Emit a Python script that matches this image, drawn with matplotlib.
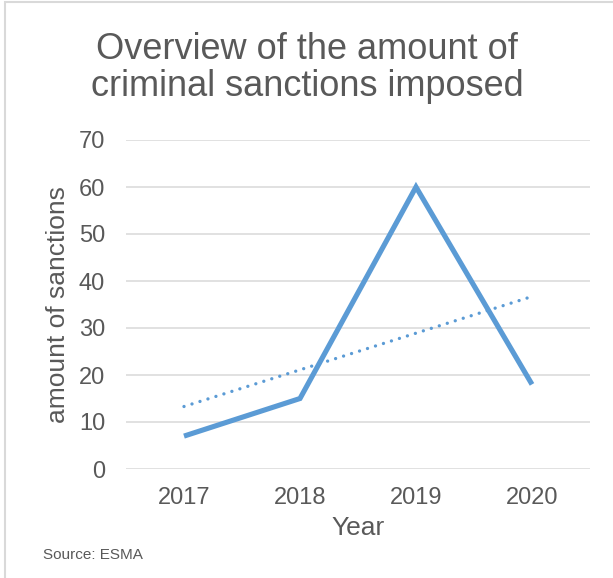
import numpy as np
from matplotlib import pyplot as plt
from matplotlib.patches import Rectangle

plt.rcParams['font.family'] = ['Liberation Sans', 'DejaVu Sans']

years = ['2017', '2018', '2019', '2020']
sanctions = [7, 15, 60, 18]
y_ticks = [0, 10, 20, 30, 40, 50, 60, 70]

text_col = '#595959'
line_col = '#5B9BD5'

fig = plt.figure(figsize=(6.13, 5.78), dpi=100)
ax = fig.add_axes([126 / 613, 1 - 469 / 578, 464 / 613, 329 / 578])

x = np.arange(len(years))
ax.plot(x, sanctions, color=line_col, lw=3.7, solid_capstyle='butt',
        solid_joinstyle='miter', zorder=3)

# linear trendline as Excel draws it
slope, icpt = np.polyfit(x, sanctions, 1)
ax.plot(x, slope * x + icpt, color=line_col, lw=2.4, ls=(0, (0.01, 2.5)),
        dash_capstyle='round', zorder=3)

ax.set_xlim(-0.5, len(years) - 0.5)
ax.set_ylim(0, 70)
ax.set_yticks(y_ticks)
ax.set_xticks(x)
ax.set_xticklabels(years)
ax.grid(axis='y', color='#D9D9D9', lw=1.1)
ax.set_axisbelow(True)
for s in ax.spines.values():
    s.set_visible(False)
ax.tick_params(length=0, labelsize=17, colors=text_col)
ax.tick_params(axis='y', pad=15)
ax.tick_params(axis='x', pad=13)

ax.set_xlabel('Year', fontsize=19, color=text_col, labelpad=5)
ax.set_ylabel('amount of sanctions', fontsize=19, color=text_col, labelpad=6)

fig.text(307 / 613, 1 - 68 / 578, 'Overview of the amount of\ncriminal sanctions imposed',
         ha='center', va='center', fontsize=26, color=text_col, linespacing=1.1)
fig.text(43 / 613, 1 - 555 / 578, 'Source: ESMA', ha='left', va='center',
         fontsize=11, color=text_col)

fig.patches.append(Rectangle((5.5 / 613, -0.01), 1.1, 1 - 2 / 578 + 0.01,
                             transform=fig.transFigure, fill=False,
                             edgecolor='#D9D9D9', lw=1.5))

fig.savefig('out.png', dpi=100)
